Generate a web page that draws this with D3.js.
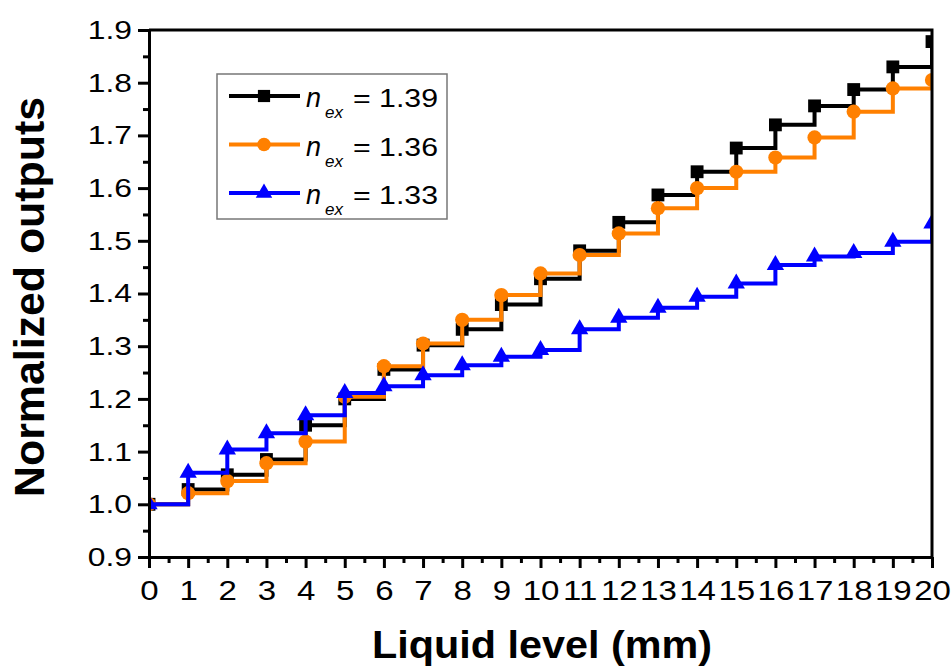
<!DOCTYPE html>
<html>
<head>
<meta charset="utf-8">
<script src="https://cdn.jsdelivr.net/npm/d3@7"></script>
<style>
  body { margin: 0; background: #fff; }
  text { font-family: "Liberation Sans", Arial, sans-serif; fill: #000; }
</style>
</head>
<body>
<div id="chart"></div>
<script>
// liquid level in mm
const liquidLevel = [0, 1, 2, 3, 4, 5, 6, 7, 8, 9, 10, 11, 12, 13, 14, 15, 16, 17, 18, 19, 20]
// normalized outputs for each external index
const out139 = [1.000, 1.028, 1.056, 1.085, 1.150, 1.200, 1.256, 1.302, 1.332, 1.379, 1.428,
                1.481, 1.535, 1.587, 1.631, 1.676, 1.720, 1.756, 1.787, 1.830, 1.878]
const out136 = [1.000, 1.021, 1.044, 1.078, 1.119, 1.204, 1.262, 1.305, 1.350, 1.397, 1.438,
                1.473, 1.514, 1.562, 1.600, 1.631, 1.658, 1.696, 1.745, 1.789, 1.805]
const out133 = [1.000, 1.060, 1.104, 1.135, 1.169, 1.211, 1.224, 1.245, 1.264, 1.280, 1.293,
                1.332, 1.354, 1.373, 1.394, 1.419, 1.454, 1.470, 1.477, 1.498, 1.533]
const seriesNames = ['1.39', '1.36', '1.33']
const xTicks = [0, 1, 2, 3, 4, 5, 6, 7, 8, 9, 10, 11, 12, 13, 14, 15, 16, 17, 18, 19, 20]
const yTicks = [0.9, 1.0, 1.1, 1.2, 1.3, 1.4, 1.5, 1.6, 1.7, 1.8, 1.9]

const width = 952, height = 669
const x = d3.scaleLinear().domain([0, 20]).range([149, 932])
const y = d3.scaleLinear().domain([0.9, 1.9]).range([557, 30])

const series = [
    { name: seriesNames[0], values: out139, color: '#000000', symbol: d3.symbolSquare, size: 165 },
    { name: seriesNames[1], values: out136, color: '#ff8000', symbol: d3.symbolCircle, size: 160 },
    { name: seriesNames[2], values: out133, color: '#0000ff', symbol: d3.symbolTriangle, size: 130 }
]

const svg = d3.select('#chart')
    .append('svg')
    .attr('width', width)
    .attr('height', height)

// text in the picture is a bit wider than the font gives
function widen(sel, k) {
    sel.each(function () {
        const w = this.getComputedTextLength()
        d3.select(this).attr('textLength', w * k).attr('lengthAdjust', 'spacingAndGlyphs')
    })
}

svg.append('defs').append('clipPath')
    .attr('id', 'plot')
    .append('rect')
    .attr('x', x(0)).attr('y', y(1.9))
    .attr('width', x(20) - x(0)).attr('height', y(0.9) - y(1.9))

const line = d3.line()
    .x((d, i) => x(liquidLevel[i]))
    .y(d => y(d))
    .curve(d3.curveStepAfter)

const plot = svg.append('g').attr('clip-path', 'url(#plot)')

series.forEach(s => {
    const g = plot.append('g')
    g.append('path')
        .attr('d', line(s.values))
        .attr('fill', 'none')
        .attr('stroke', s.color)
        .attr('stroke-width', 4)
    g.selectAll('path.m')
        .data(s.values)
        .enter()
        .append('path')
        .attr('class', 'm')
        .attr('d', d3.symbol().type(s.symbol).size(s.size))
        .attr('transform', (d, i) => `translate(${x(liquidLevel[i])},${y(d)})`)
        .attr('fill', s.color)
})

// minor ticks
const halves = d3.range(0.5, 20, 1)
const yHalves = d3.range(0.95, 1.9, 0.1)
svg.append('g')
    .attr('transform', `translate(0,${y(0.9)})`)
    .call(d3.axisBottom(x).tickValues(halves).tickSize(6).tickFormat(''))
    .call(g => g.select('.domain').remove())
svg.append('g')
    .attr('transform', `translate(${x(0)},0)`)
    .call(d3.axisLeft(y).tickValues(yHalves).tickSize(6).tickFormat(''))
    .call(g => g.select('.domain').remove())

const xAxis = svg.append('g')
    .attr('transform', `translate(0,${y(0.9)})`)
    .call(d3.axisBottom(x).tickValues(xTicks).tickSize(11).tickSizeOuter(0).tickPadding(12).tickFormat(d3.format('d')))
const yAxis = svg.append('g')
    .attr('transform', `translate(${x(0)},0)`)
    .call(d3.axisLeft(y).tickValues(yTicks).tickSize(11).tickSizeOuter(0).tickPadding(6).tickFormat(d3.format('.1f')))

svg.selectAll('.tick line').attr('stroke', '#000').attr('stroke-width', 3)
svg.selectAll('.domain').attr('stroke', '#000').attr('stroke-width', 3)

xAxis.selectAll('text').attr('font-size', 28).attr('font-family', '"Liberation Sans", Arial, sans-serif').attr('dy', '0.72em')
yAxis.selectAll('text').attr('font-size', 26.5).attr('font-family', '"Liberation Sans", Arial, sans-serif')
widen(xAxis.selectAll('text'), 1.18)
widen(yAxis.selectAll('text'), 1.2)

// top and right frame
svg.append('path')
    .attr('d', `M${x(0)},${y(1.9)}H${x(20)}V${y(0.9)}`)
    .attr('fill', 'none')
    .attr('stroke', '#000')
    .attr('stroke-width', 3)

// axis titles
svg.append('text')
    .attr('x', 542).attr('y', 658)
    .attr('text-anchor', 'middle')
    .attr('font-size', 38).attr('font-weight', 'bold')
    .attr('textLength', 340).attr('lengthAdjust', 'spacingAndGlyphs')
    .text('Liquid level (mm)')

svg.append('text')
    .attr('transform', 'translate(44,297) rotate(-90)')
    .attr('text-anchor', 'middle')
    .attr('font-size', 42).attr('font-weight', 'bold')
    .attr('textLength', 400).attr('lengthAdjust', 'spacingAndGlyphs')
    .text('Normalized outputs')

// legend
const legend = svg.append('g')
legend.append('rect')
    .attr('x', 217).attr('y', 74)
    .attr('width', 230).attr('height', 145)
    .attr('fill', '#fff')
    .attr('stroke', '#777')
    .attr('stroke-width', 1.5)

series.forEach((s, i) => {
    const ry = 96 + i * 48.5
    legend.append('line')
        .attr('x1', 229).attr('x2', 300)
        .attr('y1', ry).attr('y2', ry)
        .attr('stroke', s.color).attr('stroke-width', 4)
    legend.append('path')
        .attr('d', d3.symbol().type(s.symbol).size(s.size * 0.9))
        .attr('transform', `translate(264,${ry})`)
        .attr('fill', s.color)
    legend.append('text')
        .attr('x', 306).attr('y', ry + 11)
        .attr('font-size', 27).attr('font-style', 'italic')
        .text('n')
    legend.append('text')
        .attr('x', 325).attr('y', ry + 22)
        .attr('font-size', 17).attr('font-style', 'italic')
        .text('ex')
    legend.append('text')
        .attr('x', 353).attr('y', ry + 11)
        .attr('font-size', 26)
        .attr('textLength', 85).attr('lengthAdjust', 'spacingAndGlyphs')
        .text('= ' + s.name)
})
</script>
</body>
</html>
